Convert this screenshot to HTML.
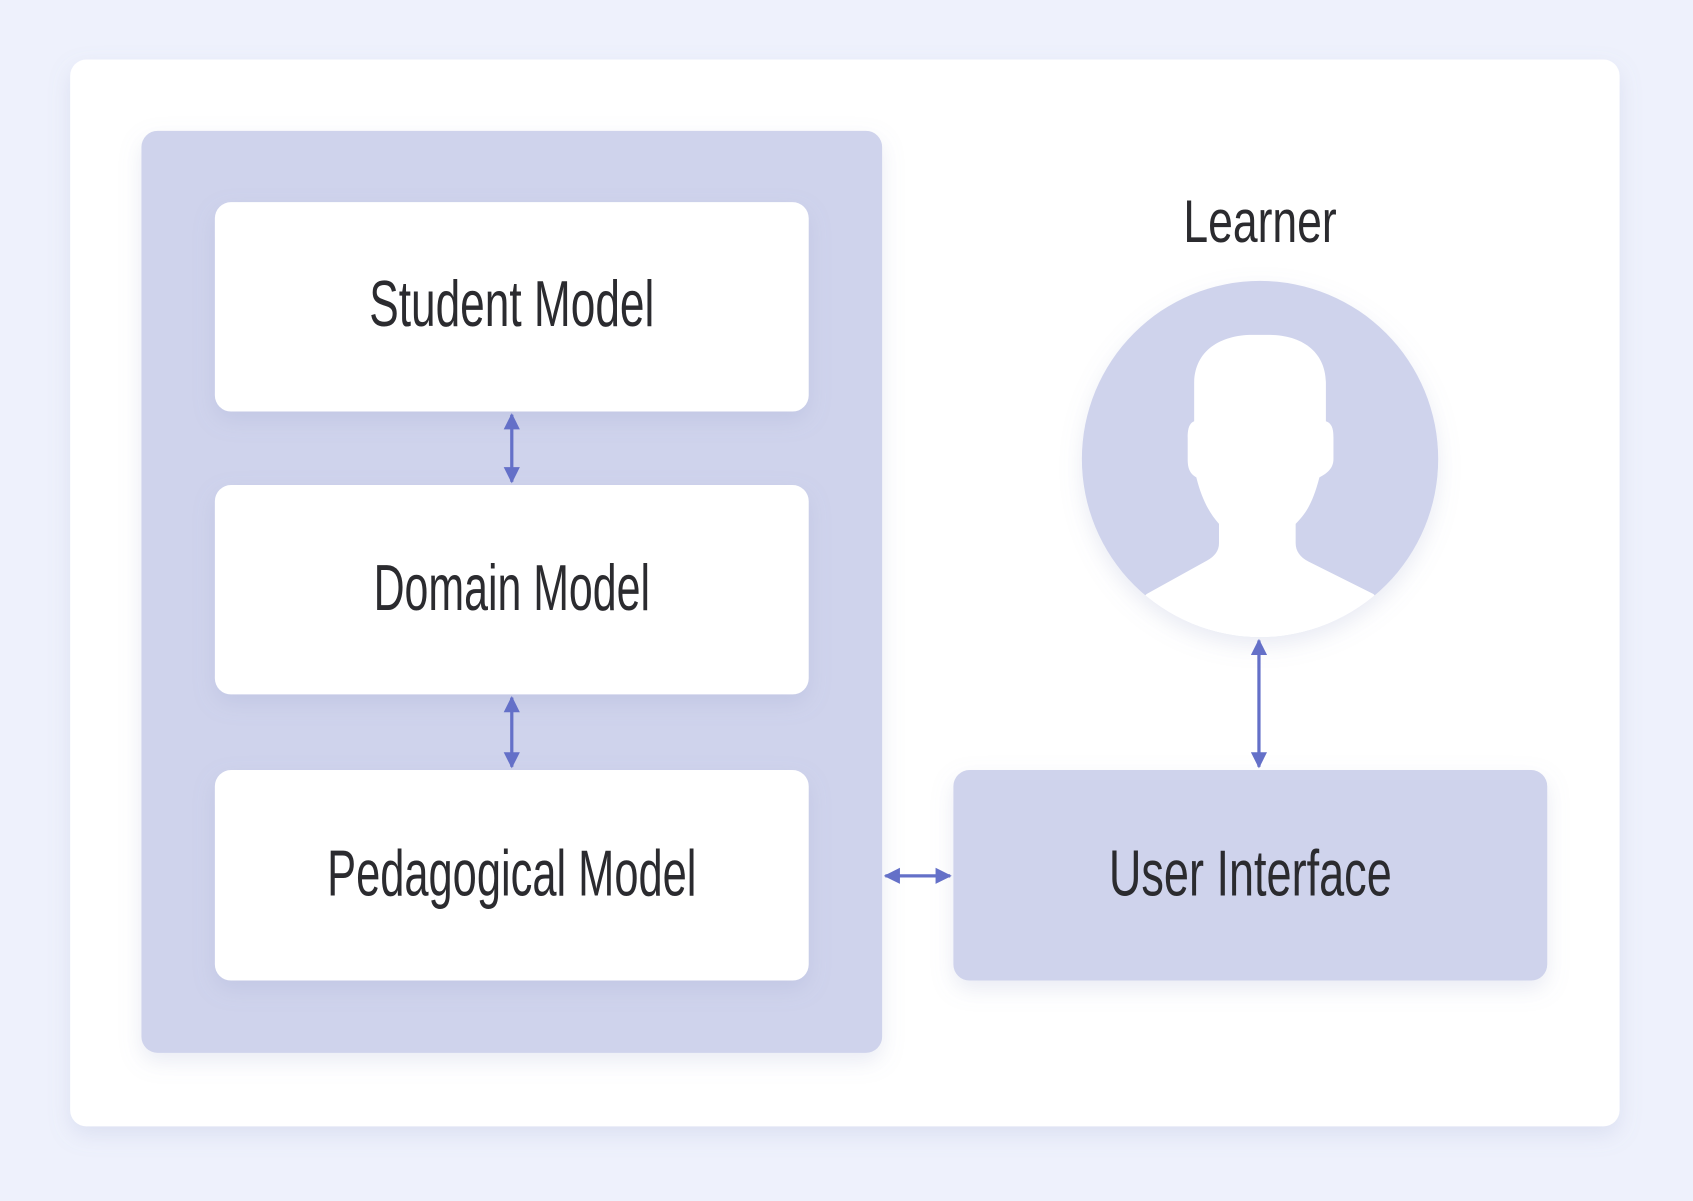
<!DOCTYPE html>
<html><head><meta charset="utf-8"><style>
html,body{margin:0;padding:0;background:#eef1fc;}
svg{display:block;}
text{font-family:"Liberation Sans",sans-serif;fill:#2b2b2f;}
</style></head><body>
<svg width="1693" height="1201" viewBox="0 0 1568 1112" xmlns="http://www.w3.org/2000/svg">
<defs>
<filter id="sh" x="-10%" y="-10%" width="120%" height="130%"><feDropShadow dx="0" dy="8" stdDeviation="10" flood-color="#8890c0" flood-opacity="0.18"/></filter>
<clipPath id="cc"><circle cx="1167" cy="425" r="165"/></clipPath>
<marker id="ah" viewBox="0 0 10 10" refX="9" refY="5" markerWidth="5" markerHeight="5" orient="auto-start-reverse"><path d="M0,0 L10,5 L0,10 z" fill="#6470c8"/></marker>
</defs>
<rect x="0" y="0" width="1568" height="1112" fill="#eef1fc"/>
<rect x="65" y="55" width="1435" height="988" rx="15" fill="#fff" filter="url(#sh)"/>
<rect x="131" y="121" width="686" height="854" rx="15" fill="#cfd3ec" filter="url(#sh)"/>
<rect x="199" y="187" width="550" height="194" rx="15" fill="#fff" filter="url(#sh)"/>
<rect x="199" y="449" width="550" height="194" rx="15" fill="#fff" filter="url(#sh)"/>
<rect x="199" y="713" width="550" height="195" rx="15" fill="#fff" filter="url(#sh)"/>
<rect x="883" y="713" width="550" height="195" rx="15" fill="#cfd3ec" filter="url(#sh)"/>
<text x="474" y="302" font-size="60" text-anchor="middle" textLength="264" lengthAdjust="spacingAndGlyphs">Student Model</text>
<text x="474" y="565" font-size="60" text-anchor="middle" textLength="256" lengthAdjust="spacingAndGlyphs">Domain Model</text>
<text x="474" y="829" font-size="60" text-anchor="middle" textLength="342" lengthAdjust="spacingAndGlyphs">Pedagogical Model</text>
<text x="1158" y="829" font-size="60" text-anchor="middle" textLength="262" lengthAdjust="spacingAndGlyphs">User Interface</text>
<text x="1167" y="224" font-size="56" text-anchor="middle" textLength="142" lengthAdjust="spacingAndGlyphs">Learner</text>
<circle cx="1167" cy="425" r="165" fill="#cfd3ec" filter="url(#sh)"/>
<g clip-path="url(#cc)">
<path fill="#fff" d="M1106,390 L1106,355 C1106,325 1130,310 1160,310 L1175,310 C1205,310 1228,325 1228,355 L1228,390 C1234,392 1235,398 1235,405 L1235,425 C1235,433 1230,438 1222,442 C1216,465 1210,475 1200,485 L1200,503 C1200,510 1204,516 1212,520 L1272,550 L1320,600 L1010,600 L1062,550 L1118,519 C1125,515 1129,510 1129,503 L1129,485 C1120,475 1113,462 1108,442 C1101,438 1100,432 1100,425 L1100,405 C1100,398 1101,392 1106,390 Z"/>
</g>
<g stroke="#6470c8" stroke-width="3" fill="none">
<line x1="474" y1="384" x2="474" y2="446" marker-start="url(#ah)" marker-end="url(#ah)"/>
<line x1="474" y1="646" x2="474" y2="710" marker-start="url(#ah)" marker-end="url(#ah)"/>
<line x1="820" y1="811" x2="880" y2="811" marker-start="url(#ah)" marker-end="url(#ah)"/>
<line x1="1166" y1="593" x2="1166" y2="710" marker-start="url(#ah)" marker-end="url(#ah)"/>
</g>
</svg>
</body></html>
